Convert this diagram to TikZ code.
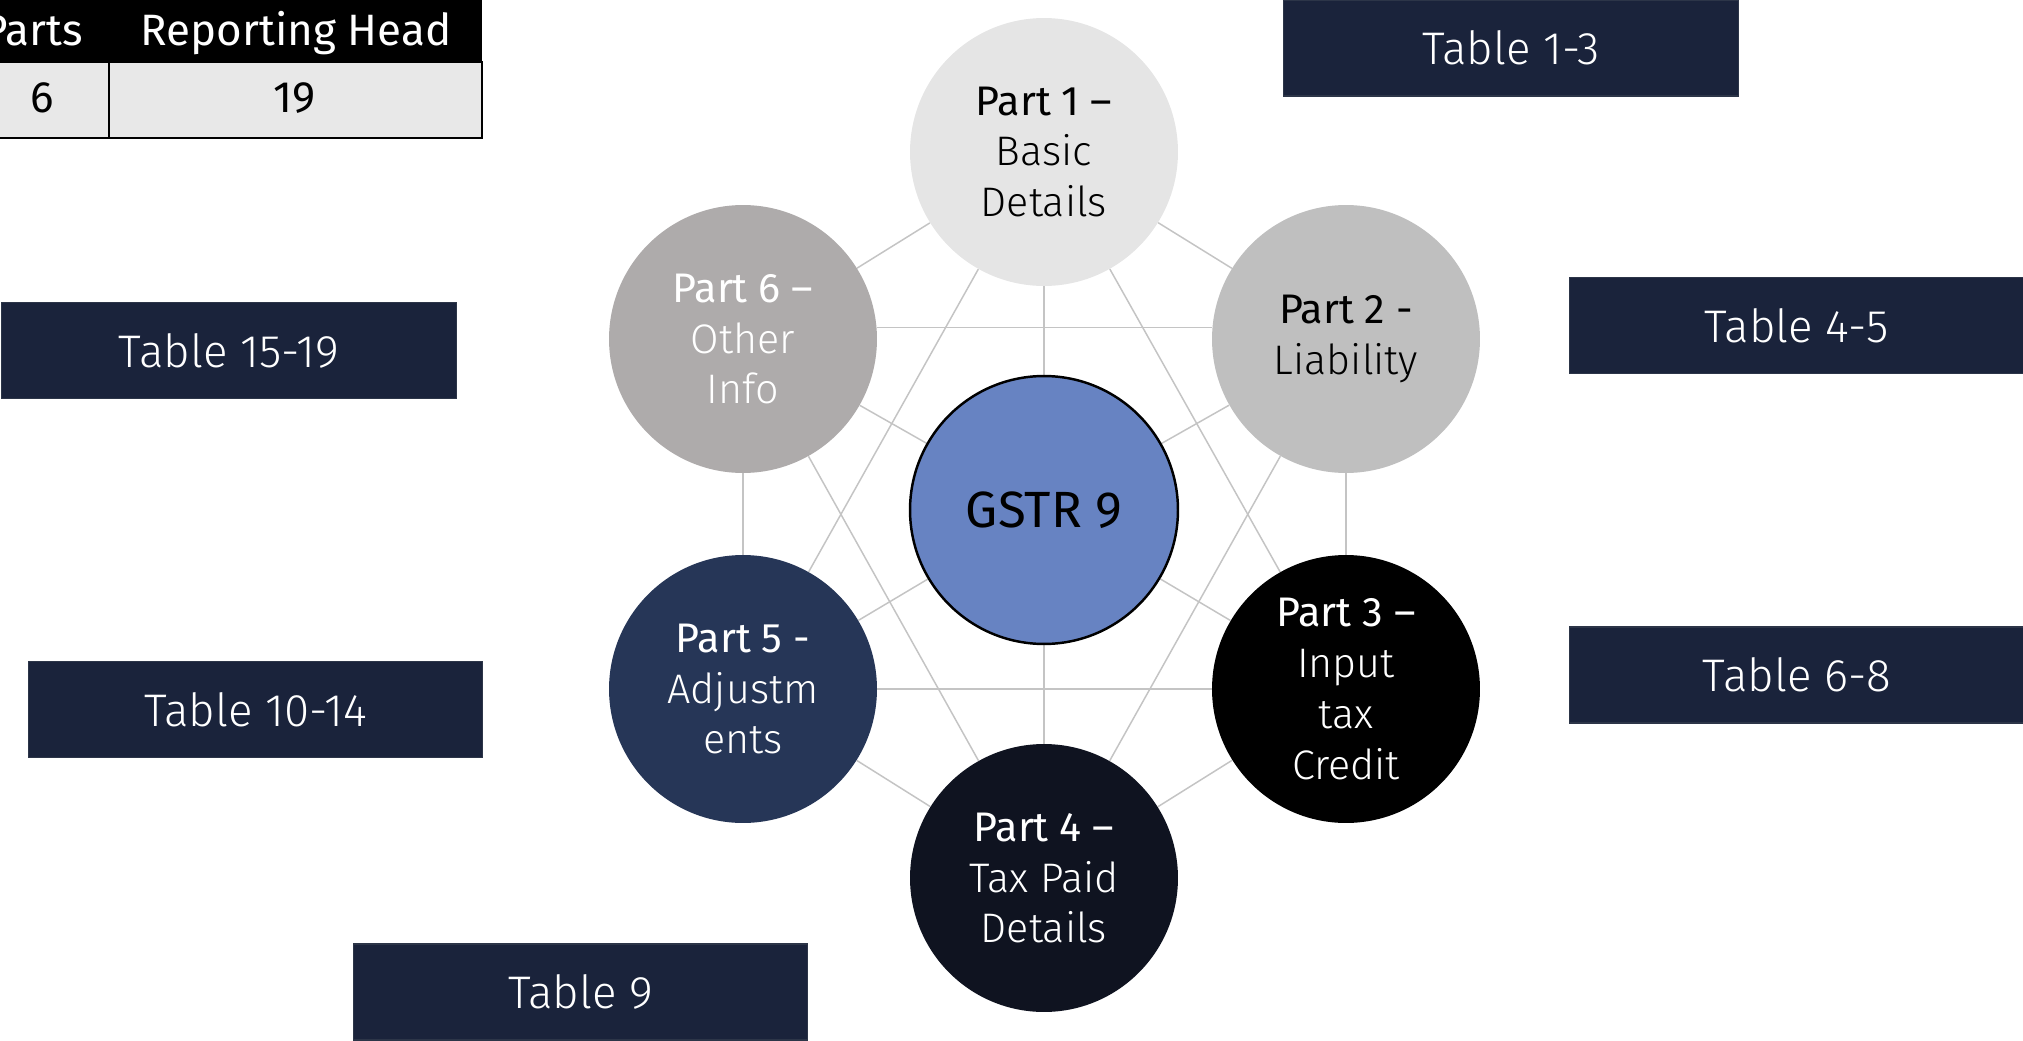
\documentclass[tikz,border=0pt]{standalone}
\usepackage{fontspec}
\setmainfont{Fira Sans}
\newfontfamily\lightfont{Fira Sans Light}
\newfontfamily\bookfont{Fira Sans}
\usetikzlibrary{backgrounds}

\definecolor{boxnavy}{HTML}{1A233B}
\definecolor{boxedge}{HTML}{2C3548}
\definecolor{linegray}{HTML}{C4C4C4}
\definecolor{hubblue}{HTML}{6783C2}
\definecolor{pone}{HTML}{E5E5E5}
\definecolor{ptwo}{HTML}{BFBFBF}
\definecolor{pthree}{HTML}{000000}
\definecolor{pfour}{HTML}{0F1320}
\definecolor{pfive}{HTML}{263657}
\definecolor{psix}{HTML}{AEABAB}
\definecolor{cellgray}{HTML}{E8E8E8}

% first line of each part label is set a little heavier
\newcommand\partline[1]{{\bookfont #1}}

\tikzset{
  part/.style={circle, minimum size=5.36cm, inner sep=0pt, align=center,
    font=\lightfont\fontsize{23.5}{28.9}\selectfont},
  hub/.style={circle, minimum size=5.36cm, inner sep=0pt, fill=hubblue,
    draw=black, line width=1.4pt, font=\bookfont\fontsize{29}{34}\selectfont},
  tablebox/.style={rectangle, fill=boxnavy, draw=boxedge, line width=0.6pt,
    minimum width=9.1cm, minimum height=1.92cm, inner sep=0pt, text=white,
    font=\lightfont\fontsize{26}{30}\selectfont},
  link/.style={draw=linegray, line width=0.85pt},
  headtext/.style={anchor=base, inner sep=0pt, text=white,
    font=\bookfont\fontsize{25}{30}\selectfont},
  celltext/.style={anchor=base, inner sep=0pt, text=black,
    font=\bookfont\fontsize{25}{30}\selectfont}
}

\begin{document}
\begin{tikzpicture}[x=0.02cm, y=-0.02cm]
\useasboundingbox (0,0) rectangle (2023,1041);

% summary table, top left
\fill[black] (-40,-10) rectangle (482,62);
\filldraw[fill=cellgray, draw=black, line width=1.13pt] (-40,62) rectangle (482,138);
\draw[black, line width=1.13pt] (109,62) -- (109,138);
\node[headtext] (hparts) at (33,45) {Parts};
\node[headtext] (hhead) at (296,45) {Reporting Head};
\node[celltext] (vparts) at (42,112) {6};
\node[celltext] (vhead) at (295,112) {19};

% hub and the six parts
\node[hub] (g) at (1044,510) {GSTR 9};
\node[part, fill=pone, text=black] (p1) at (1044,152) {\partline{Part 1 –}\\Basic\\Details};
\node[part, fill=ptwo, text=black] (p2) at (1346,339) {\partline{Part 2 -}\\Liability};
\node[part, fill=pthree, text=white] (p3) at (1346,689) {\partline{Part 3 –}\\Input\\tax\\Credit};
\node[part, fill=pfour, text=white] (p4) at (1044,878) {\partline{Part 4 –}\\Tax Paid\\Details};
\node[part, fill=pfive, text=white] (p5) at (743,689) {\partline{Part 5 -}\\Adjustm\\ents};
\node[part, fill=psix, text=white] (p6) at (743,339) {\partline{Part 6 –}\\Other\\Info};

% connecting web
\begin{scope}[on background layer]
  \foreach \p in {p1,p2,p3,p4,p5,p6} \draw[link] (\p) -- (g);
  \draw[link] (p1) -- (p2);
  \draw[link] (p2) -- (p3);
  \draw[link] (p3) -- (p4);
  \draw[link] (p4) -- (p5);
  \draw[link] (p5) -- (p6);
  \draw[link] (p6) -- (p1);
  \draw[link] (p1) -- (p3);
  \draw[link] (p1) -- (p5);
  \draw[link] (p5) -- (p3);
  \draw[link] (p2) -- (p4);
  \draw[link] (p4) -- (p6);
  \draw[link] (p6.5) -- (p2.175);
\end{scope}

% table ranges
\node[tablebox] (t13) at (1511,48) {Table 1-3};
\node[tablebox] (t45) at (1796.5,325.5) {Table 4-5};
\node[tablebox] (t68) at (1797,675) {Table 6-8};
\node[tablebox] (t1519) at (229,350.5) {Table 15-19};
\node[tablebox] (t1014) at (255.5,709.5) {Table 10-14};
\node[tablebox] (t9) at (580.5,992) {Table 9};
\end{tikzpicture}
\end{document}
